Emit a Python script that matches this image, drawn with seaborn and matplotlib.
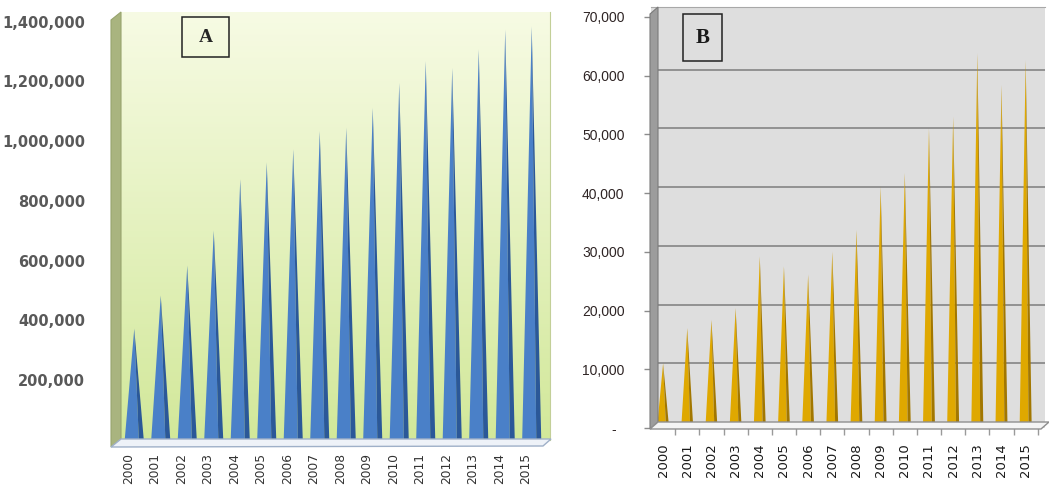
import matplotlib
matplotlib.use("Agg")
import matplotlib.pyplot as plt
import matplotlib.transforms as mtransforms
from matplotlib.patches import Polygon, Rectangle
import numpy as np
import seaborn as sns

# years on the x axis (both panels)
years = ["2000", "2001", "2002", "2003", "2004", "2005", "2006", "2007",
         "2008", "2009", "2010", "2011", "2012", "2013", "2014", "2015"]

# panel A values
values_a = [372000, 483000, 583000, 700000, 872000, 928000, 972000, 1033000,
            1044000, 1111000, 1194000, 1267000, 1244000, 1306000, 1372000, 1383000]

# panel B values
values_b = [11000, 17000, 18400, 20400, 29200, 27500, 26100, 30000,
            33700, 41100, 43400, 51000, 53000, 63800, 58400, 62600]

ticks_a = [200000, 400000, 600000, 800000, 1000000, 1200000, 1400000]
ticks_b = [0, 10000, 20000, 30000, 40000, 50000, 60000, 70000]
grid_b = [10000, 20000, 30000, 40000, 50000, 60000]

sns.set_style("white")
plt.rcParams["font.family"] = ["DejaVu Sans"]

W, H = 1049, 495
fig = plt.figure(figsize=(W / 100, H / 100), dpi=100)


def box(x0, y0, x1, y1):
    # pixel box (top-left origin) -> figure fraction rect
    return [x0 / W, 1 - y1 / H, (x1 - x0) / W, (y1 - y0) / H]


def fp(pts):
    return [(x / W, 1 - y / H) for x, y in pts]


def cones(ax, main, dark):
    # turn seaborn's bars into two-tone cones
    for p in list(ax.patches):
        x0, w, h = p.get_x(), p.get_width(), p.get_height()
        c = x0 + w / 2
        split = x0 + 0.74 * w
        ax.add_patch(Polygon([(x0, 0), (c, h), (split, 0)], closed=True,
                             facecolor=main, edgecolor="none", zorder=3))
        ax.add_patch(Polygon([(split, 0), (c, h), (x0 + w, 0)], closed=True,
                             facecolor=dark, edgecolor="none", zorder=3))
        p.set_visible(False)


# ---------------- panel A ----------------
rect_a = box(121, 12, 550, 440)
bg = fig.add_axes(rect_a, zorder=0)
grad = np.linspace(0, 1, 256).reshape(-1, 1)
cmap_a = matplotlib.colors.LinearSegmentedColormap.from_list("a", ["#f7fbe4", "#d2e89a"])
bg.imshow(grad, aspect="auto", cmap=cmap_a, extent=[0, 1, 0, 1])
bg.axis("off")

ax = fig.add_axes(rect_a, zorder=1)
ax.patch.set_alpha(0)
sns.barplot(x=years, y=values_a, ax=ax, width=0.72, color="#4a80c8",
            saturation=1, errorbar=None)
cones(ax, "#4a80c8", "#2b5898")
ax.set_xlim(-0.5, 15.69)
ax.set_ylim(0, 1432000)
ax.set_yticks(ticks_a)
ax.set_yticklabels([f"{v:,}" for v in ticks_a], fontsize=10.5,
                   fontweight="bold", color="#595959")
ax.tick_params(axis="y", length=0, pad=26)
ax.tick_params(axis="x", length=0, pad=9, labelrotation=90,
               labelsize=8.8, labelcolor="#333333")
shift = mtransforms.ScaledTranslation(-6 / 100, 0, fig.dpi_scale_trans)
for lab in ax.get_xticklabels():
    lab.set_transform(lab.get_transform() + shift)
ax.set_xlabel("")
ax.set_ylabel("")
for s in ["top", "left", "bottom"]:
    ax.spines[s].set_visible(False)
ax.spines["right"].set_color("#c3cf98")

# 3D wall and floor
fig.patches.append(Polygon(fp([(111, 20), (121, 12), (121, 440), (111, 447)]),
                           closed=True, transform=fig.transFigure,
                           facecolor="#a9b47f", edgecolor="#98a46e", lw=0.8))
fig.patches.append(Polygon(fp([(111, 447), (121, 439), (551, 439), (543, 446)]),
                           closed=True, transform=fig.transFigure,
                           facecolor="#eef2f8", edgecolor="#9fb0c8", lw=1, zorder=5))
fig.patches.append(Rectangle((182 / W, 1 - 57 / H), 47 / W, 40 / H,
                             transform=fig.transFigure, facecolor="none",
                             edgecolor="#222222", lw=1.1, zorder=6))
fig.text(205.5 / W, 1 - 37 / H, "A", family="Liberation Serif", weight="bold",
         fontsize=14, ha="center", va="center")

# ---------------- panel B ----------------
rect_b = box(651, 7, 1045, 428)
bx = fig.add_axes(rect_b, zorder=1)
bx.set_facecolor("#dedede")
up = bx.get_yaxis_transform() + mtransforms.ScaledTranslation(0, 6 / 100, fig.dpi_scale_trans)
for v in grid_b:
    bx.plot([0, 1], [v, v], color="#8c8c8c", lw=1.3, zorder=1, transform=up)
sns.barplot(x=years, y=values_b, ax=bx, width=0.5, color="#dba400",
            saturation=1, errorbar=None)
cones(bx, "#dfa800", "#a27700")
bx.set_xlim(-0.5, 15.8)
bx.set_ylim(0, 71700)
bx.set_yticks(ticks_b)
bx.set_yticklabels(["-  "] + [f"{v:,}" for v in ticks_b[1:]],
                   family="Liberation Sans", fontsize=10, color="#2e2424")
bx.tick_params(axis="y", left=True, length=5, width=1, color="#8c8c8c", pad=14)
bx.set_xticks(range(len(years)))
bx.set_xticks(np.arange(0.5, 15.6, 1), minor=True)
bx.tick_params(axis="x", which="major", length=0, pad=11, labelrotation=90,
               labelsize=9.5, labelcolor="#1a1a1a")
bx.tick_params(axis="x", which="minor", bottom=True, length=5, width=1,
               color="#9a9a9a")
bx.set_xlabel("")
bx.set_ylabel("")
for s in ["left", "right", "bottom"]:
    bx.spines[s].set_visible(False)
bx.spines["top"].set_color("#a8a8a8")

fig.patches.append(Polygon(fp([(650, 14), (658, 7), (658, 422), (650, 429)]),
                           closed=True, transform=fig.transFigure,
                           facecolor="#9c9c9c", edgecolor="#7a7a7a", lw=0.8, zorder=5))
fig.patches.append(Polygon(fp([(650, 429), (658, 422), (1049, 422), (1041, 429)]),
                           closed=True, transform=fig.transFigure,
                           facecolor="#f4f4f4", edgecolor="#8f8f8f", lw=1, zorder=5))
fig.patches.append(Rectangle((683 / W, 1 - 61 / H), 39 / W, 47 / H,
                             transform=fig.transFigure, facecolor="none",
                             edgecolor="#222222", lw=1.1, zorder=6))
fig.text(702.5 / W, 1 - 38 / H, "B", family="Liberation Serif", weight="bold",
         fontsize=15, ha="center", va="center", color="#1a1a1a")

fig.savefig("out.png", dpi=100)
